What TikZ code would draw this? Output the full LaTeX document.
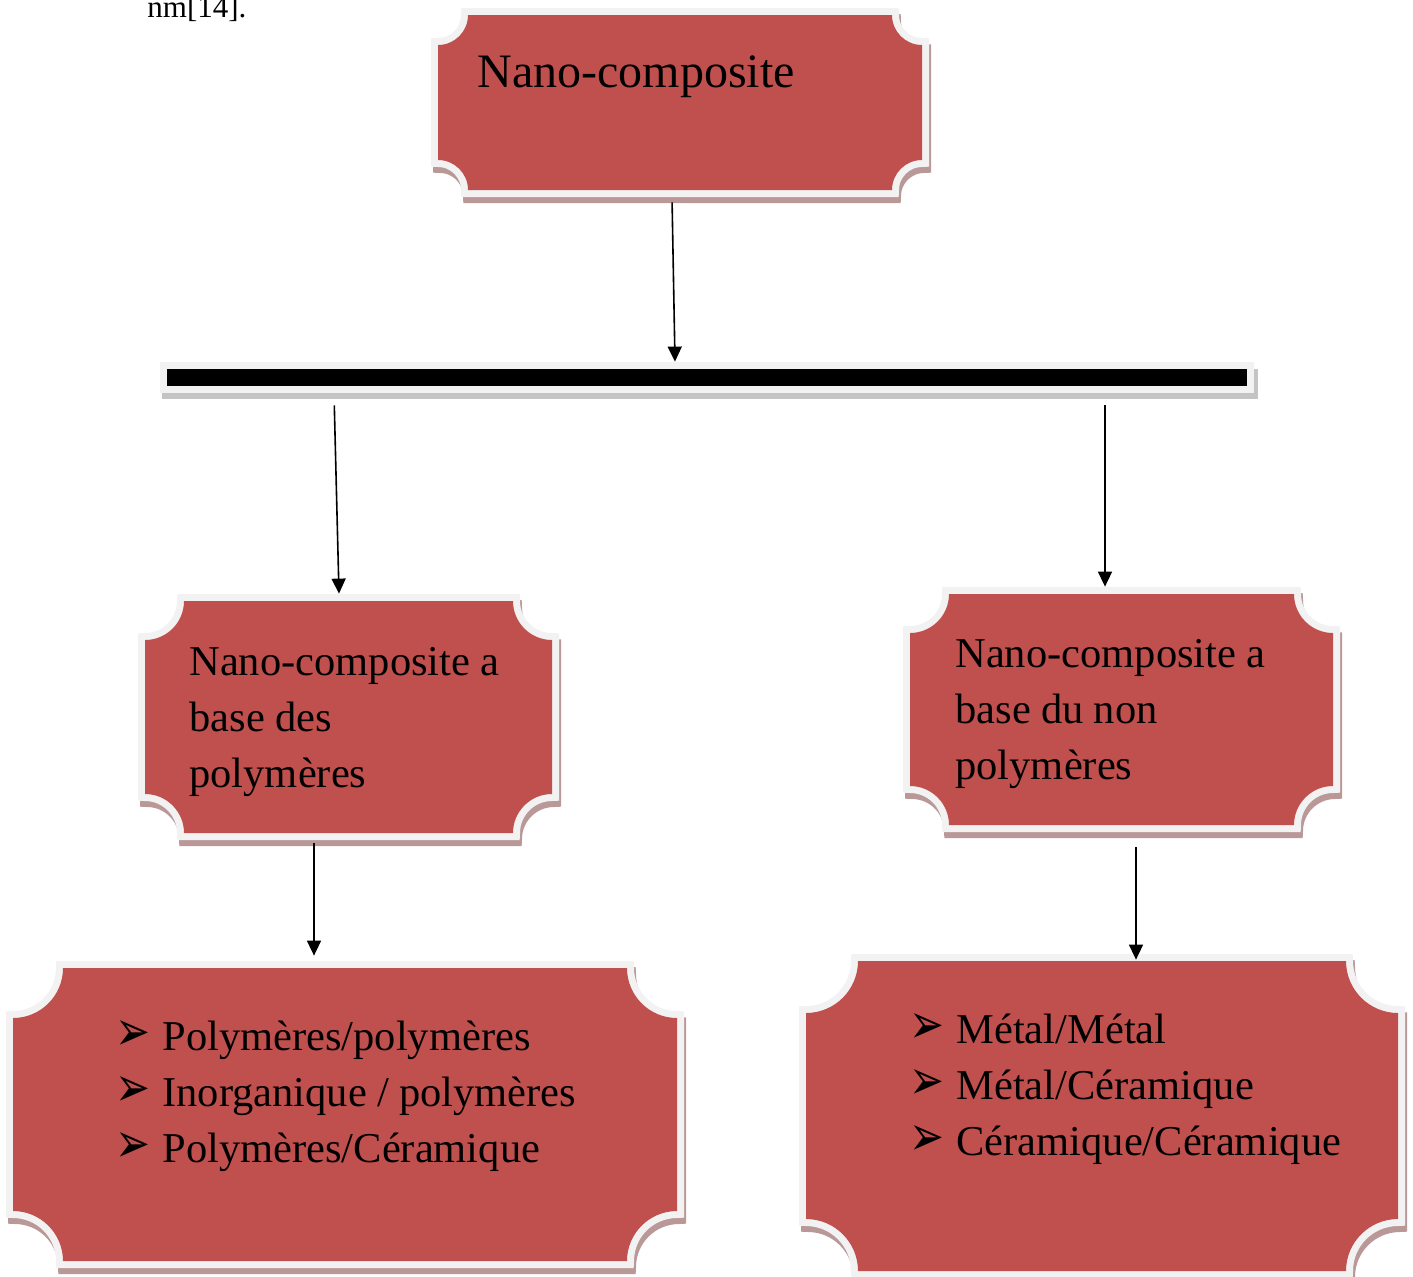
\documentclass[tikz,border=0pt]{standalone}
\usepackage{fontspec}
\setmainfont{Liberation Serif}
\newfontfamily\symfont{DejaVu Sans}
\usetikzlibrary{arrows.meta,fit}

\definecolor{plaquered}{HTML}{C0504D}
\definecolor{framegray}{HTML}{F2F2F2}
\definecolor{plaqueshadow}{HTML}{BA9898}
\definecolor{barshadow}{HTML}{C4C4C4}

% plaque outline: x1 y1 x2 y2 radius (pixel units, y down)
\newcommand{\plaquepath}[5]{(#1+#5,#2) -- (#3-#5,#2) arc (180:90:#5) -- (#3,#4-#5) arc (270:180:#5) -- (#1+#5,#4) arc (0:-90:#5) -- (#1,#2+#5) arc (90:0:#5) -- cycle}
\newcommand{\plaque}[5]{%
	\path[draw=plaqueshadow, fill=plaqueshadow, line width=7pt, shift={(2,6)}] \plaquepath{#1}{#2}{#3}{#4}{#5};
	\path[draw=framegray, line width=7pt, line join=miter] \plaquepath{#1}{#2}{#3}{#4}{#5};
	\fill[plaquered] \plaquepath{#1}{#2}{#3}{#4}{#5};}
\newcommand{\bul}{\makebox[22pt][l]{\hspace{-1.5pt}\resizebox{17.5pt}{15pt}{\symfont ➢}}}

\begin{document}
\begin{tikzpicture}[x=0.5pt, y=-0.5pt,
		plaquearea/.style={inner sep=3.5pt},
		plaquetext/.style={inner sep=0pt, anchor=base west, align=left, text width=300pt, font=\fontsize{21.25}{28}\selectfont, execute at begin node={\spaceskip=5.1pt\relax}},
		arr/.style={line width=0.8pt, -{Triangle[length=7.5pt, width=7pt]}}]
	\useasboundingbox (0,0) rectangle (1413,1276);
	\node[inner sep=0pt, anchor=base west, font=\fontsize{15.5}{18}\selectfont] (cite) at (147,17) {nm[14].};

	% plaques
	\plaque{438}{15}{922}{190}{30}
	\node[plaquearea, fit={(438,15) (922,190)}] (top) {};
	\plaque{145}{601}{552}{833}{39}
	\node[plaquearea, fit={(145,601) (552,833)}] (lm) {};
	\plaque{910}{594}{1333}{825}{39}
	\node[plaquearea, fit={(910,594) (1333,825)}] (rm) {};
	\plaque{13}{968}{677}{1261}{50}
	\node[plaquearea, fit={(13,968) (677,1261)}] (lb) {};
	\plaque{806}{961}{1398}{1271}{52}
	\node[plaquearea, fit={(806,961) (1398,1271)}] (rb) {};

	% bar
	\fill[barshadow] (162,369) rectangle (1258,399);
	\draw[framegray, line width=7pt, fill=black] (167,369) rectangle (1247,386);
	\fill[black] (167,369) rectangle (1247,386);
	\node[plaquearea, fit={(167,369) (1247,386)}] (bar) {};

	% texts
	\node[inner sep=0pt, anchor=base west, font=\fontsize{24}{28}\selectfont] (topt) at (477,87) {Nano-composite};
	\node[plaquetext] (lmt) at (189,675) {Nano-composite a\\base des\\polymères};
	\node[plaquetext] (rmt) at (955,667) {Nano-composite a\\base du non\\polymères};
	\node[plaquetext] (lbt) at (118,1050) {\bul Polymères/polymères\\\bul Inorganique / polymères\\\bul Polymères/Céramique};
	\node[plaquetext] (rbt) at (912,1043) {\bul Métal/Métal\\\bul Métal/Céramique\\\bul Céramique/Céramique};

	% arrows
	\draw[arr, shorten <=2.5pt] ([xshift=-4pt]top.south) -- ([xshift=-2.5pt]top.south |- bar.north);
	\draw[arr, shorten <=6pt] ([xshift=-7.25pt]lm.north |- bar.south) -- ([xshift=-4.75pt]lm.north);
	\draw[arr, shorten <=6pt] ([xshift=-8.25pt]rm.north |- bar.south) -- ([xshift=-8.25pt]rm.north);
	\draw[arr, shorten <=1.5pt, shorten >=2.5pt] ([xshift=-17.25pt]lm.south) -- ([xshift=-17.25pt]lm.south |- lb.north);
	\draw[arr, shorten <=7.5pt, shorten >=-3pt] ([xshift=7.25pt]rm.south) -- ([xshift=7.25pt]rm.south |- rb.north);
\end{tikzpicture}
\end{document}
